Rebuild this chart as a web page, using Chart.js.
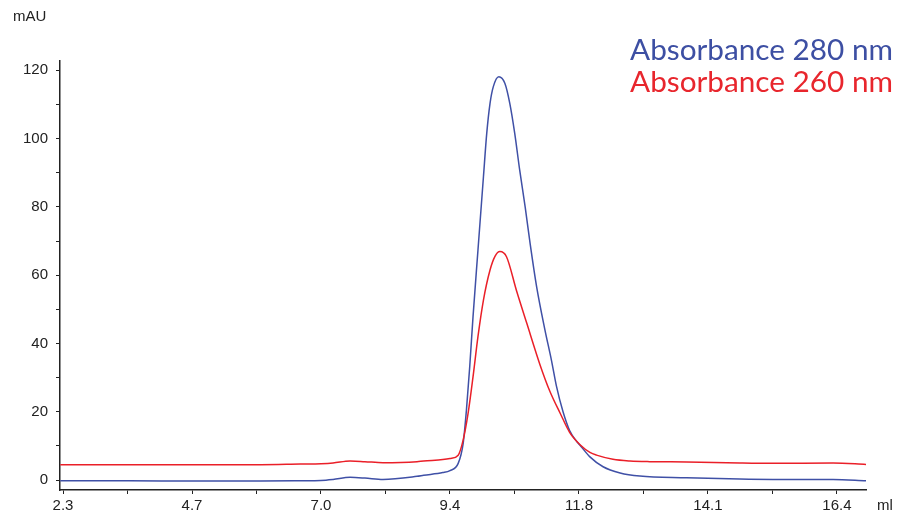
<!DOCTYPE html>
<html>
<head>
<meta charset="utf-8">
<script src="https://cdn.jsdelivr.net/npm/chart.js@4.4.1/dist/chart.umd.min.js"></script>
<style>
html,body{margin:0;padding:0;background:#fff;}
#c{display:block;}
</style>
</head>
<body>
<canvas id="c" width="897" height="521"></canvas>
<script>
// Elution volume (ml) and absorbance (mAU)
const a280Volume = [2.25,3.5,4.7,5.9,6.62,7.0,7.22,7.53,7.8,8.13,8.75,8.87,9.22,9.35,9.50,9.59,9.65,9.71,9.77,9.86,9.96,10.02,10.08,10.14,10.24,10.35,10.44,10.53,10.62,10.72,10.81,10.93,11.08,11.20,11.29,11.41,11.53,11.66,11.73,11.90,12.14,12.45,12.81,13.66,14.63,15.23,16.33,16.93];
const a280Values = [-0.2,-0.2,-0.3,-0.3,-0.2,-0.1,0.2,0.8,0.6,0.2,1.1,1.4,2.2,2.8,4.9,10.7,20.5,33.2,47.8,67.3,88.8,101.5,110.3,115.2,118.1,116.2,110.3,101.5,90.8,80.0,69.3,56.5,44.0,35.0,27.5,20.0,14.5,11.3,10.0,6.8,3.9,2.1,1.2,0.7,0.3,0.2,0.2,-0.2];

const a260Volume = [2.25,3.5,4.7,5.9,6.62,7.0,7.22,7.53,7.8,8.13,8.75,8.87,9.22,9.35,9.50,9.59,9.68,9.77,9.86,9.96,10.08,10.17,10.26,10.38,10.56,10.75,10.99,11.17,11.36,11.53,11.73,11.90,12.02,12.32,12.63,12.99,13.66,14.63,15.23,16.33,16.93];
const a260Values = [4.5,4.5,4.5,4.5,4.7,4.8,5.0,5.6,5.4,5.1,5.4,5.6,6.0,6.3,7.3,11.7,19.5,30.2,42.0,52.7,61.5,65.5,66.9,65.4,55.6,45.9,33.8,26.0,19.5,14.0,10.2,8.1,7.3,6.1,5.6,5.4,5.3,5.0,4.9,5.0,4.6];

// Axis ticks
const xMajorTicks = [2.3,4.65,7.0,9.35,11.7,14.05,16.4];
const xTickLabels = ["2.3","4.7","7.0","9.4","11.8","14.1","16.4"];
const yTicks = [0,10,20,30,40,50,60,70,80,90,100,110,120];
const yTickLabels = ["0","","20","","40","","60","","80","","100","","120"];

const seriesNames = ["Absorbance 280 nm","Absorbance 260 nm"];
const seriesColors = ["#3f50a6","#ea1f28"];
const legendColors = ["#3d4fa3","#e8262d"];

const xTicksAll = [];
xMajorTicks.forEach((v,i)=>{
  xTicksAll.push(v);
  if(i<xMajorTicks.length-1) xTicksAll.push((v+xMajorTicks[i+1])/2);
});

const toPts = (xs,ys)=>xs.map((x,i)=>({x:x,y:ys[i]}));

const textPlugin = {
  id:'texts',
  afterDraw(chart){
    const ctx = chart.ctx;
    ctx.save();
    ctx.fillStyle = '#222';
    ctx.font = '15px "Liberation Sans", Arial, sans-serif';
    ctx.textBaseline = 'middle';
    ctx.textAlign = 'left';
    ctx.fillText('mAU', 13, 17);
    ctx.fillText('ml', 877, 506);
    // legend text sized to span the same width as the reference
    let size = 30;
    ctx.font = size + 'px Lato, "Open Sans", sans-serif';
    const w = ctx.measureText(seriesNames[0]).width;
    size = size * 263 / w;
    ctx.font = size.toFixed(2) + 'px Lato, "Open Sans", sans-serif';
    ctx.textAlign = 'right';
    ctx.textBaseline = 'alphabetic';
    ctx.fillStyle = legendColors[0];
    ctx.fillText(seriesNames[0], 893, 60);
    ctx.fillStyle = legendColors[1];
    ctx.fillText(seriesNames[1], 893, 92);
    ctx.restore();
  }
};

new Chart(document.getElementById('c'), {
  type:'line',
  data:{
    datasets:[
      {label:seriesNames[1], data:toPts(a260Volume,a260Values), borderColor:seriesColors[1], borderWidth:1.5, pointRadius:0, fill:false, cubicInterpolationMode:'monotone'},
      {label:seriesNames[0], data:toPts(a280Volume,a280Values), borderColor:seriesColors[0], borderWidth:1.5, pointRadius:0, fill:false, cubicInterpolationMode:'monotone'}
    ]
  },
  options:{
    responsive:false,
    animation:false,
    layout:{padding:{top:61,right:31,left:0,bottom:0}},
    plugins:{legend:{display:false},tooltip:{enabled:false},title:{display:false}},
    scales:{
      x:{
        type:'linear', min:2.245, max:16.93,
        afterBuildTicks(s){ s.ticks = xTicksAll.map(v=>({value:v})); },
        afterFit(s){ s.height = 31; },
        ticks:{
          autoSkip:false, maxRotation:0, padding:3, color:'#222',
          font:{family:'"Liberation Sans", Arial, sans-serif', size:15},
          callback(v){ const i = xMajorTicks.findIndex(t=>Math.abs(t-v)<1e-6); return i>=0 ? xTickLabels[i] : ''; }
        },
        grid:{drawOnChartArea:false, drawTicks:true, tickLength:4, color:'#222', lineWidth:1},
        border:{display:true, color:'#222', width:1.5}
      },
      y:{
        type:'linear', min:-2.9, max:122.7,
        afterBuildTicks(s){ s.ticks = yTicks.map(v=>({value:v})); },
        afterFit(s){ s.width = 60; },
        ticks:{
          autoSkip:false, padding:8, color:'#222',
          font:{family:'"Liberation Sans", Arial, sans-serif', size:15},
          callback(v){ const i = yTicks.indexOf(v); return i>=0 ? yTickLabels[i] : ''; }
        },
        grid:{drawOnChartArea:false, drawTicks:true, tickLength:4, color:'#222', lineWidth:1},
        border:{display:true, color:'#222', width:1.5}
      }
    }
  },
  plugins:[textPlugin]
});
</script>
</body>
</html>
